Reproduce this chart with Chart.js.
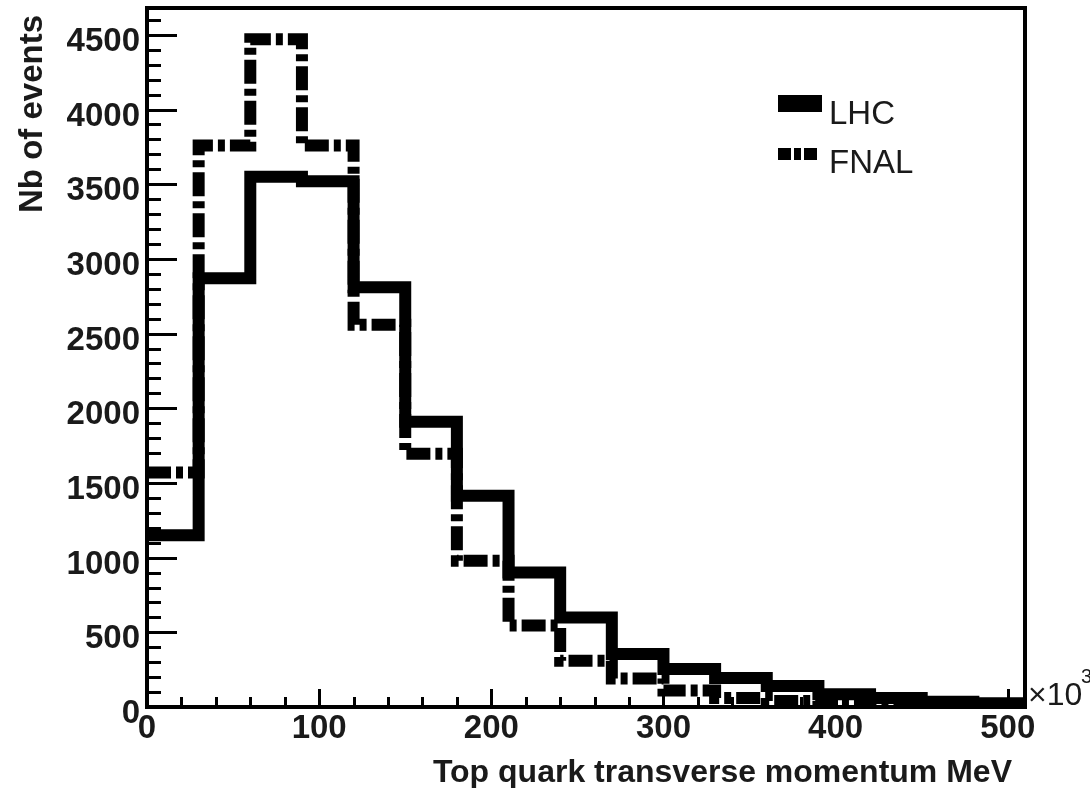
<!DOCTYPE html>
<html>
<head>
<meta charset="utf-8">
<script src="https://cdn.jsdelivr.net/npm/chart.js@4/dist/chart.umd.min.js"></script>
<style>
  html, body { margin: 0; padding: 0; background: #fff; }
  #wrap { width: 1090px; height: 788px; }
</style>
</head>
<body>
<div id="wrap"><canvas id="c" width="1090" height="788"></canvas></div>
<script>
// Histogram binning: 17 bins of 30 (x10^3 MeV) from 0 to 510
const binEdges = [0, 30, 60, 90, 120, 150, 180, 210, 240, 270, 300, 330, 360, 390, 420, 450, 480];
const binWidth = 30;

// Event counts per bin
const lhcCounts  = [1150, 2870, 3550, 3520, 2810, 1910, 1415, 900, 600, 355, 255, 195, 140, 85, 60, 35, 25];
const fnalCounts = [1570, 3760, 4470, 3760, 2560, 1695, 980, 545, 310, 190, 110, 60, 40, 25, 15, 10, 5];

// Axis labels
const xTickLabels = ['0', '100', '200', '300', '400', '500'];
const yTickLabels = ['0', '500', '1000', '1500', '2000', '2500', '3000', '3500', '4000', '4500'];
const seriesNames = ['LHC', 'FNAL'];
const xTitle = 'Top quark transverse momentum MeV';
const yTitle = 'Nb of events';

// Step outline: one point per bin low edge, plus the closing upper edge
function histPoints(counts) {
  const pts = counts.map((c, i) => ({ x: binEdges[i], y: c }));
  pts.push({ x: binEdges[binEdges.length - 1] + binWidth, y: counts[counts.length - 1] });
  return pts;
}

// Fixed tick positions: major ticks carry the labels, minor ones subdivide them
function tickValues(last, step) {
  const out = [];
  for (let v = 0; v <= last; v += step) out.push({ value: v });
  return out;
}

const TEXT = '#1a1a1a';
const FONT = '"Liberation Sans", Arial, Helvetica, sans-serif';

// Frame, inward tick marks, titles and legend drawn on top of the datasets
const decorations = {
  id: 'decorations',
  afterDatasetsDraw(chart) {
    const ctx = chart.ctx;
    const { left, top, right, bottom } = chart.chartArea;
    const xs = chart.scales.x, ys = chart.scales.y;
    ctx.save();
    ctx.strokeStyle = '#000';
    ctx.fillStyle = '#000';

    // tick marks pointing into the frame
    ctx.lineWidth = 3;
    ctx.beginPath();
    ys.ticks.forEach(t => {
      const y = Math.round(ys.getPixelForValue(t.value)) + 0.5;
      const len = t.value % 500 === 0 ? 30 : 14;
      ctx.moveTo(left, y); ctx.lineTo(left + len, y);
    });
    xs.ticks.forEach(t => {
      const x = Math.round(xs.getPixelForValue(t.value)) + 0.5;
      const len = t.value % 100 === 0 ? 18 : 10;
      ctx.moveTo(x, bottom); ctx.lineTo(x, bottom - len);
    });
    ctx.stroke();

    // frame
    ctx.lineWidth = 4;
    ctx.strokeRect(left, top, right - left, bottom - top);

    // axis titles
    ctx.fillStyle = TEXT;
    ctx.font = 'bold 32px ' + FONT;
    ctx.textAlign = 'right';
    ctx.textBaseline = 'alphabetic';
    ctx.fillText(xTitle, 1012, 782);

    ctx.save();
    ctx.translate(42, 15);
    ctx.rotate(-Math.PI / 2);
    ctx.font = 'bold 33px ' + FONT;
    ctx.fillText(yTitle, 0, 0);
    ctx.restore();

    // axis multiplier
    ctx.textAlign = 'left';
    ctx.font = '32px ' + FONT;
    ctx.fillText('\u00d710', 1028, 705);
    ctx.font = '20px ' + FONT;
    ctx.fillText('3', 1081, 683);

    // legend
    ctx.fillStyle = '#000';
    ctx.fillRect(778, 95, 44, 17);
    ctx.strokeStyle = '#000';
    ctx.lineWidth = 12;
    ctx.lineCap = 'butt';
    ctx.setLineDash([13, 3, 7, 3]);
    ctx.beginPath();
    ctx.moveTo(778, 154); ctx.lineTo(817, 154);
    ctx.stroke();
    ctx.setLineDash([]);
    ctx.fillStyle = TEXT;
    ctx.font = '33px ' + FONT;
    ctx.fillText(seriesNames[0], 829, 124);
    ctx.fillText(seriesNames[1], 829, 173);

    ctx.restore();
  }
};

const lineStyle = {
  borderColor: '#000',
  borderWidth: 12,
  stepped: 'before',
  pointRadius: 0,
  fill: false,
  clip: 0,
  borderJoinStyle: 'miter',
  borderCapStyle: 'butt'
};

new Chart(document.getElementById('c'), {
  type: 'line',
  data: {
    datasets: [
      Object.assign({ label: seriesNames[0], data: histPoints(lhcCounts) }, lineStyle),
      Object.assign({ label: seriesNames[1], data: histPoints(fnalCounts), borderDash: [24, 5, 7, 5] }, lineStyle)
    ]
  },
  options: {
    responsive: false,
    devicePixelRatio: 1,
    animation: false,
    events: [],
    layout: { padding: { top: 8, right: 65, left: 0, bottom: 0 } },
    plugins: { legend: { display: false }, tooltip: { enabled: false } },
    scales: {
      x: {
        type: 'linear',
        min: 0,
        max: 510,
        border: { display: false },
        grid: { display: false, drawTicks: false },
        ticks: {
          autoSkip: false,
          maxRotation: 0,
          padding: 2,
          color: TEXT,
          font: { family: FONT, size: 33, weight: 'bold' },
          callback: v => (xTickLabels.includes(String(v)) ? String(v) : '')
        },
        afterBuildTicks: s => { s.ticks = tickValues(500, 20); },
        afterFit: s => { s.height = 81; s.paddingLeft = 0; s.paddingRight = 0; }
      },
      y: {
        type: 'linear',
        min: 0,
        max: 4680,
        border: { display: false },
        grid: { display: false, drawTicks: false },
        ticks: {
          autoSkip: false,
          padding: 7,
          labelOffset: 7,
          color: TEXT,
          font: { family: FONT, size: 33, weight: 'bold' },
          callback: v => (yTickLabels.includes(String(v)) ? String(v) : '')
        },
        afterBuildTicks: s => { s.ticks = tickValues(4600, 100); },
        afterFit: s => { s.width = 147; s.paddingTop = 0; s.paddingBottom = 0; }
      }
    }
  },
  plugins: [decorations]
});
</script>
</body>
</html>
